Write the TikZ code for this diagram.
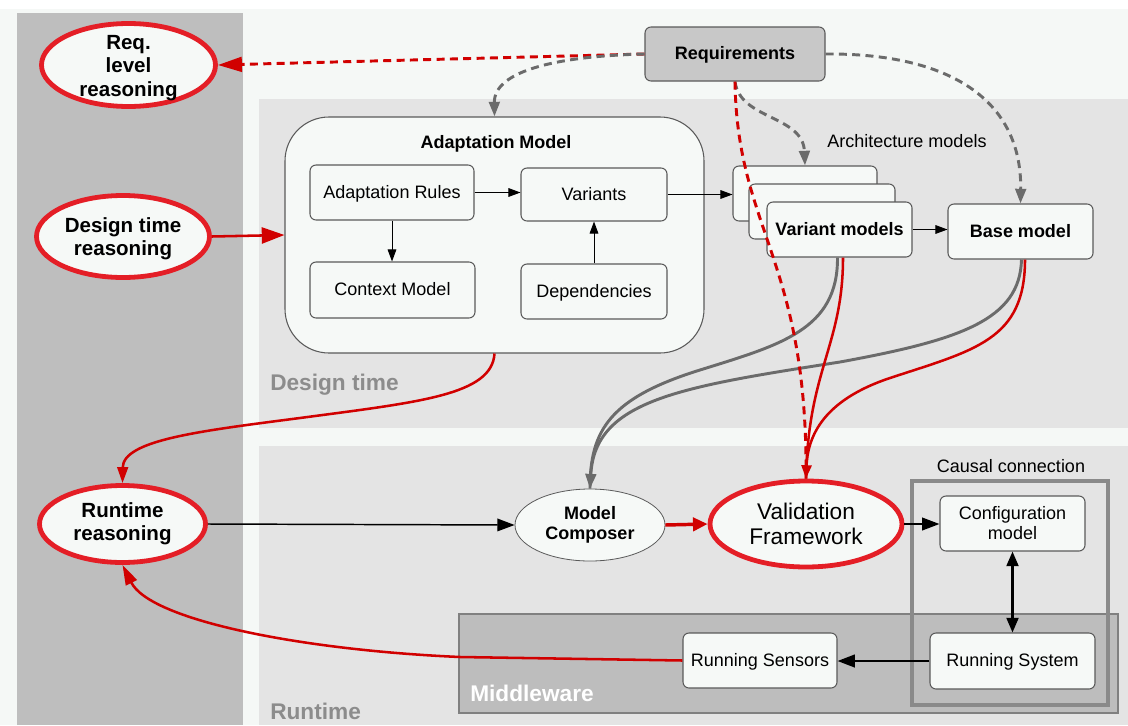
\documentclass[tikz,border=0pt]{standalone}
\usepackage{fontspec}
\setmainfont{Liberation Sans}
\usetikzlibrary{arrows.meta,shapes.geometric,calc}

\definecolor{bgc}{HTML}{F5F8F6}
\definecolor{colgray}{HTML}{BEBEBE}
\definecolor{regiongray}{HTML}{E4E4E4}
\definecolor{mwgray}{HTML}{BDBDBD}
\definecolor{mwline}{HTML}{808080}
\definecolor{boxfill}{HTML}{F6F9F7}
\definecolor{boxline}{HTML}{5A5A5A}
\definecolor{reqfill}{HTML}{C8C8C8}
\definecolor{redE}{HTML}{E41E26}
\definecolor{redC}{HTML}{D10000}
\definecolor{grayC}{HTML}{6B6B6B}
\definecolor{labelgray}{HTML}{8C8C8C}
\definecolor{causalline}{HTML}{8A8A8A}

\newcommand\sizeN{\fontsize{13.5}{15}\selectfont}
\newcommand\sizeL{\fontsize{15.4}{17.4}\selectfont}
\newcommand\sizeXL{\fontsize{17}{19}\selectfont}

\tikzset{
  box/.style={draw=boxline, fill=boxfill, rounded corners=4.5pt, line width=0.8pt,
              inner sep=0pt, font=\sizeN, text height=2.0ex, text depth=0.35ex},
  twoline/.style={text height=, text depth=, align=center},
  redell/.style={ellipse, draw=redE, line width=3.6pt, fill=boxfill, inner sep=0pt,
                 font=\sizeL\bfseries, align=center},
  ellText/.style={font=\sizeL\bfseries, align=center, inner sep=0pt},
  thinarrow/.style={-{Triangle[length=9pt,width=6.5pt]}, line width=0.7pt, black},
  blackarrow/.style={-{Triangle[length=13pt,width=9.5pt]}, line width=1.1pt, black},
  redline/.style={redC, line width=1.9pt},
  reddash/.style={redC, line width=2.2pt, dash pattern=on 6pt off 4pt},
  graydash/.style={grayC, line width=2.2pt, dash pattern=on 6pt off 4pt,
                   -{Triangle[length=11pt,width=8pt]}},
  graythick/.style={grayC, line width=2.2pt},
  regionlabel/.style={anchor=west, font=\sizeXL\bfseries, inner sep=0pt}
}

\begin{document}
\begin{tikzpicture}[x=0.75pt,y=-0.75pt]
  % canvas and the three bands
  \fill[bgc] (0,0) rectangle (1128,725);
  \fill[white] (0,0) rectangle (1128,9);
  \fill[colgray] (17,13) rectangle (243,725);
  \fill[regiongray] (259,99) rectangle (1128,428);
  \fill[regiongray] (259,446) rectangle (1128,725);
  \fill[mwgray, draw=mwline, line width=1.2pt] (459,614) rectangle (1118,713);
  \draw[causalline, line width=2.4pt] (912,481) rectangle (1108,705);

  % band captions
  \node[regionlabel, text=labelgray] (lblDesign) at (270,385) {Design time};
  \node[regionlabel, text=labelgray] (lblRuntime) at (270,711) {Runtime};
  \node[regionlabel, text=white] (lblMiddleware) at (470,693) {Middleware};
  \node[font=\sizeN] (lblArch) at (907,141) {Architecture models};
  \node[font=\sizeN] (lblCausal) at (1011,466) {Causal connection};

  % reasoning ellipses
  \node[redell, minimum width=130.5pt, minimum height=62.25pt] (rlr) at (128.5,65) {};
  \node[ellText] (rlrText) at (128.5,68) {Req.\\level\\reasoning};
  \node[redell, minimum width=129.75pt, minimum height=61.5pt] (des) at (123,236.5) {};
  \node[ellText] (desText) at (123,238.5) {Design time\\reasoning};
  \node[redell, minimum width=124.5pt, minimum height=57.75pt] (rtr) at (122.5,524)
        {Runtime\\reasoning};

  % requirements
  \node[box, fill=reqfill, minimum width=135pt, minimum height=40.5pt, font=\sizeN\bfseries]
        (req) at (735,54) {Requirements};

  % adaptation model
  \node[draw=boxline, fill=boxfill, line width=0.8pt, rounded corners=33pt,
        minimum width=314.25pt, minimum height=177pt, inner sep=0pt] (adapt) at (494.5,235) {};
  \node[font=\sizeN\bfseries] (adaptTitle) at (496,144) {Adaptation Model};
  \node[box, minimum width=123pt, minimum height=41.25pt] (rules) at (392,192.5) {Adaptation Rules};
  \node[box, minimum width=109.5pt, minimum height=39.75pt] (variants) at (594,194.5) {Variants};
  \node[box, minimum width=123.75pt, minimum height=42pt] (context) at (392.5,290) {Context Model};
  \node[box, minimum width=109.5pt, minimum height=41.25pt] (deps) at (594,291.5) {Dependencies};

  % architecture models stack
  \node[box, minimum width=108pt, minimum height=41.25pt] (arch1) at (805,193.5) {};
  \node[box, minimum width=109.5pt, minimum height=41.25pt] (arch2) at (822,211.5) {};
  \node[box, minimum width=108.75pt, minimum height=41.25pt, font=\sizeN\bfseries]
        (varm) at (839.5,229.5) {Variant models};
  \node[box, minimum width=108.75pt, minimum height=41.25pt, font=\sizeN\bfseries]
        (base) at (1020.5,231.5) {Base model};

  % runtime nodes
  \node[ellipse, draw=boxline, line width=0.6pt, fill=boxfill, inner sep=0pt,
        minimum width=112.5pt, minimum height=54pt, font=\sizeN\bfseries, align=center]
        (comp) at (590,525) {Model\\Composer};
  \node[ellipse, draw=redE, line width=3.6pt, fill=boxfill, inner sep=0pt,
        minimum width=144pt, minimum height=64.5pt, font=\fontsize{17}{19}\selectfont, align=center]
        (valid) at (806,524) {Validation\\Framework};
  \node[box, twoline, minimum width=108.75pt, minimum height=41.25pt] (config) at (1012.5,523.5)
        {Configuration\\model};
  \node[box, minimum width=123.75pt, minimum height=42pt] (runsys) at (1012.5,661) {Running System};
  \node[box, minimum width=115.5pt, minimum height=41.25pt] (sensors) at (760,660.5) {Running Sensors};

  % links inside the adaptation model
  \draw[thinarrow] (rules.east) -- (rules.east -| variants.west);
  \draw[thinarrow] (rules.south) -- (rules.south |- context.north);
  \draw[thinarrow] (deps.north) -- (variants.south);
  \draw[thinarrow] (variants.east) -- (variants.east -| arch1.west);
  \draw[thinarrow] (varm.east) -- (varm.east -| base.west);

  % requirements fan-out
  \draw[reddash, -{Triangle[length=18pt,width=11pt]}] (req.west) -- (rlr.east);
  \draw[graydash] (req.west) .. controls (560,56) and (494,70) .. (adapt.north);
  \draw[graydash] (req.south) .. controls (740,120) and (803,115) .. (arch1.north);
  \draw[graydash] (req.east) .. controls (950,53) and (1022,100) .. (base.north);

  % design time reasoning into the adaptation model
  \draw[redline, -{Triangle[length=17pt,width=12pt]}] (des.east) -- (adapt.west);

  % architecture models into the composer
  \draw[graythick] ($(varm.south)+(-2,0)$) .. controls (838,330) and (780,345) .. (700,370)
        .. controls (610,398) and (590,430) .. (comp.north);
  \draw[graythick, -{Triangle[length=11pt,width=8pt]}] ($(base.south)+(1,0)$)
        .. controls (1020,320) and (960,340) .. (840,362)
        .. controls (680,387) and (595,400) .. (comp.north);

  % inputs of the validation framework
  \draw[reddash] (req.south) .. controls (737,230) and (808,260) .. (valid.north);
  \draw[redline] ($(varm.south)+(3.5,0)$) .. controls (843,345) and (808,370) .. (valid.north);
  \draw[redline, -{Triangle[length=10pt,width=7.5pt]}] ($(base.south)+(4.5,0)$)
        .. controls (1025,340) and (975,350) .. (890,378)
        .. controls (830,398) and (808,430) .. (valid.north);

  % adaptation model down to runtime reasoning
  \draw[redline, -{Triangle[length=12pt,width=8pt]}] (adapt.south)
        .. controls (492,395) and (420,402) .. (300,418)
        .. controls (200,431) and (123,440) .. (rtr.north);

  % runtime chain
  \draw[blackarrow] (rtr.east) -- (comp.west);
  \draw[redC, line width=2.6pt, -{Triangle[length=11pt,width=10pt]}] (comp.east) -- (valid.west);
  \draw[blackarrow, line width=1.3pt] (valid.east) -- (valid.east -| config.west);
  \draw[{Triangle[length=11pt,width=9pt]}-{Triangle[length=11pt,width=9pt]}, line width=1.6pt]
        (config.south) -- (config.south |- runsys.north);
  \draw[blackarrow, line width=1.6pt] (runsys.west) -- (runsys.west -| sensors.east);
  \draw[redline, -{Triangle[length=15pt,width=9pt]}] (sensors.west) -- (460,657)
        .. controls (300,650) and (150,620) .. (rtr.south);
\end{tikzpicture}
\end{document}
